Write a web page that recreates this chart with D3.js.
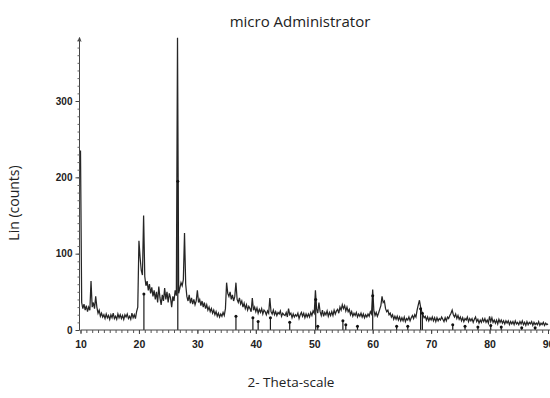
<!DOCTYPE html>
<html>
<head>
<meta charset="utf-8">
<script src="https://cdn.jsdelivr.net/npm/d3@7/dist/d3.min.js"></script>
<style>
  html, body { margin: 0; padding: 0; background: #fff; }
  svg { display: block; }
</style>
</head>
<body>
<svg id="chart" width="550" height="398"></svg>
<script>
// Diffraction scan: counts sampled every 0.2 degrees 2-theta, starting at 10.0
const thetaStart = 10;
const thetaStep = 0.2;
const counts = [
  // 10
  235, 36, 28, 34, 26,
  // 11
  32, 24, 30, 26, 64,
  // 12
  30, 36, 28, 44, 30,
  // 13
  22, 26, 18, 22, 17,
  // 14
  20, 15, 21, 16, 19,
  // 15
  14, 20, 16, 22, 15,
  // 16
  18, 14, 21, 16, 20,
  // 17
  15, 19, 14, 20, 17,
  // 18
  21, 15, 18, 14, 22,
  // 19
  16, 20, 15, 24, 30,
  // 20
  117, 95, 78, 72, 150,
  // 21
  70, 58, 64, 52, 60,
  // 22
  48, 56, 44, 52, 40,
  // 23
  50, 36, 57, 42, 33,
  // 24
  46, 38, 55, 40, 50,
  // 25
  36, 48, 42, 30, 44,
  // 26
  38, 52, 45, 383, 48,
  // 27
  55, 62, 58, 66, 127,
  // 28
  60, 44, 38, 46, 35,
  // 29
  42, 34, 40, 33, 38,
  // 30
  52, 36, 40, 32, 38,
  // 31
  30, 36, 28, 33, 26,
  // 32
  30, 24, 28, 22, 26,
  // 33
  20, 24, 18, 22, 17,
  // 34
  21, 18, 23, 19, 28,
  // 35
  62, 48, 44, 50, 40,
  // 36
  46, 38, 44, 62, 40,
  // 37
  36, 42, 34, 38, 30,
  // 38
  35, 28, 33, 26, 31,
  // 39
  28, 24, 42, 26, 30,
  // 40
  24, 29, 22, 27, 23,
  // 41
  28, 21, 26, 24, 20,
  // 42
  25, 22, 42, 24, 21,
  // 43
  26, 20, 24, 19, 23,
  // 44
  21, 25, 18, 22, 20,
  // 45
  19, 23, 17, 28, 20,
  // 46
  22, 16, 21, 17, 20,
  // 47
  18, 22, 15, 20, 23,
  // 48
  18, 22, 16, 21, 17,
  // 49
  21, 17, 23, 19, 25,
  // 50
  22, 52, 28, 22, 36,
  // 51
  24, 19, 26, 18, 23,
  // 52
  20, 25, 18, 23, 19,
  // 53
  24, 19, 26, 21, 25,
  // 54
  27, 22, 30, 26, 33,
  // 55
  28, 32, 25, 30, 24,
  // 56
  27, 20, 24, 18, 22,
  // 57
  19, 23, 17, 21, 18,
  // 58
  22, 17, 21, 16, 20,
  // 59
  17, 21, 18, 24, 21,
  // 60
  53, 26, 19, 23, 18,
  // 61
  22, 27, 32, 44, 36,
  // 62
  38, 28, 24, 26, 20,
  // 63
  22, 17, 20, 14, 18,
  // 64
  14, 18, 13, 17, 12,
  // 65
  16, 12, 17, 11, 15,
  // 66
  13, 17, 12, 16, 19,
  // 67
  15, 20, 17, 26, 33,
  // 68
  39, 30, 24, 20, 16,
  // 69
  18, 13, 17, 12, 16,
  // 70
  13, 17, 12, 16, 11,
  // 71
  16, 12, 15, 13, 17,
  // 72
  14, 11, 16, 12, 17,
  // 73
  15, 19, 22, 26, 20,
  // 74
  17, 21, 15, 19, 14,
  // 75
  17, 12, 16, 11, 15,
  // 76
  13, 17, 11, 15, 12,
  // 77
  15, 10, 14, 17, 11,
  // 78
  14, 9, 13, 10, 15,
  // 79
  11, 15, 10, 13, 9,
  // 80
  18, 11, 16, 10, 13,
  // 81
  9, 13, 8, 14, 10,
  // 82
  13, 9, 12, 8, 12,
  // 83
  9, 12, 7, 11, 8,
  // 84
  11, 7, 12, 8, 10,
  // 85
  7, 11, 8, 12, 7,
  // 86
  10, 6, 11, 7, 10,
  // 87
  8, 11, 6, 10, 7,
  // 88
  9, 7, 11, 6, 9,
  // 89
  7, 10, 6, 9, 7,
  // 90
  8
];

// Reference pattern lines: [2-theta, relative height]
const stickTheta = [20.85, 26.65, 36.6, 39.5, 40.4, 42.5, 45.8, 50.25, 50.6, 54.9, 55.4, 57.4,
                    60.0, 64.1, 66.0, 68.2, 68.5, 73.7, 75.8, 78.0, 80.2, 82.0, 85.5, 87.8];
const stickHeight = [47, 195, 18, 16, 11, 16, 10, 40, 5, 12, 7, 5,
                     45, 5, 5, 28, 22, 7, 5, 4, 6, 4, 3, 3];

const xTicks = [10, 20, 30, 40, 50, 60, 70, 80, 90];
const yTicks = [0, 100, 200, 300];

const titleText = "micro Administrator";
const xTitle = "2- Theta-scale";
const yTitle = "Lin (counts)";

const svg = d3.select("#chart");
const W = 550, H = 398;

const x = d3.scaleLinear().domain([10, 90]).range([80.5, 548]);
const y = d3.scaleLinear().domain([0, 300]).range([330, 101]);
const yTop = 383;

const ink = "#222";
const traceColor = "#262626";

// scan trace
const scan = counts.map((c, i) => [thetaStart + i * thetaStep, c]);
svg.append("path")
  .datum(scan)
  .attr("fill", "none")
  .attr("stroke", traceColor)
  .attr("stroke-width", 1.25)
  .attr("stroke-linejoin", "miter")
  .attr("d", d3.line().x(d => x(d[0])).y(d => y(d[1])));

// reference sticks with a dot on top
const sticks = stickTheta.map((t, i) => ({ t, h: stickHeight[i] }));
const sg = svg.append("g");
sg.selectAll("line").data(sticks).join("line")
  .attr("x1", d => x(d.t)).attr("x2", d => x(d.t))
  .attr("y1", y(0)).attr("y2", d => y(d.h))
  .attr("stroke", "#1a1a1a").attr("stroke-width", 1.2);
sg.selectAll("circle").data(sticks).join("circle")
  .attr("cx", d => x(d.t)).attr("cy", d => y(d.h))
  .attr("r", 1.5).attr("fill", "#111");

// x axis: minor tick every degree, labelled every 10
const xAxisG = svg.append("g").attr("transform", `translate(0,${y(0)})`);
xAxisG.append("line").attr("x1", x(10)).attr("x2", W).attr("stroke", "#444").attr("stroke-width", 1);
xAxisG.call(d3.axisBottom(x).tickValues(d3.range(10, 91, 1)).tickSize(3).tickFormat(""))
  .call(g => g.select(".domain").remove())
  .call(g => g.selectAll(".tick line").attr("stroke", "#555"));
const xLab = svg.append("g").attr("transform", `translate(0,${y(0)})`)
  .call(d3.axisBottom(x).tickValues(xTicks).tickSize(4).tickPadding(7).tickFormat(d3.format("d")));
xLab.select(".domain").remove();
xLab.selectAll(".tick line").attr("stroke", "#444");
xLab.selectAll("text")
  .attr("fill", ink)
  .style("font-family", "'Liberation Sans', Arial, sans-serif")
  .style("font-weight", "bold")
  .style("font-size", "10.5px");

// y axis: minor tick every 10 counts, labelled every 100
const yAxisG = svg.append("g").attr("transform", `translate(${x(10) - 1},0)`);
yAxisG.append("line").attr("y1", y(0)).attr("y2", y(yTop)).attr("stroke", "#444").attr("stroke-width", 1);
yAxisG.call(d3.axisLeft(y).tickValues(d3.range(0, 381, 10)).tickSize(2).tickFormat(""))
  .call(g => g.select(".domain").remove())
  .call(g => g.selectAll(".tick line").attr("stroke", "#666"));
const yLab = svg.append("g").attr("transform", `translate(${x(10) - 1},0)`)
  .call(d3.axisLeft(y).tickValues(yTicks).tickSize(4).tickPadding(3).tickFormat(d3.format("d")));
yLab.select(".domain").remove();
yLab.selectAll(".tick line").attr("stroke", "#444");
yLab.selectAll("text")
  .attr("fill", ink)
  .style("font-family", "'Liberation Sans', Arial, sans-serif")
  .style("font-weight", "bold")
  .style("font-size", "10px");
// small arrow head at the top of the count axis
svg.append("path")
  .attr("d", `M${x(10) - 2.5},${y(yTop) + 4} L${x(10) - 1},${y(yTop)} L${x(10) + 0.5},${y(yTop) + 4}`)
  .attr("fill", "none").attr("stroke", "#444").attr("stroke-width", 1);

// titles
svg.append("text")
  .attr("x", 300).attr("y", 27)
  .attr("text-anchor", "middle")
  .attr("fill", ink)
  .style("font-family", "'Open Sans', sans-serif")
  .style("font-size", "15px")
  .text(titleText);

svg.append("text")
  .attr("x", 291).attr("y", 387)
  .attr("text-anchor", "middle")
  .attr("fill", ink)
  .style("font-family", "'Open Sans', sans-serif")
  .style("font-size", "13.5px")
  .text(xTitle);

svg.append("text")
  .attr("transform", "translate(19,203) rotate(-90)")
  .attr("text-anchor", "middle")
  .attr("fill", ink)
  .style("font-family", "'Open Sans', sans-serif")
  .style("font-size", "14px")
  .text(yTitle);
</script>
</body>
</html>
